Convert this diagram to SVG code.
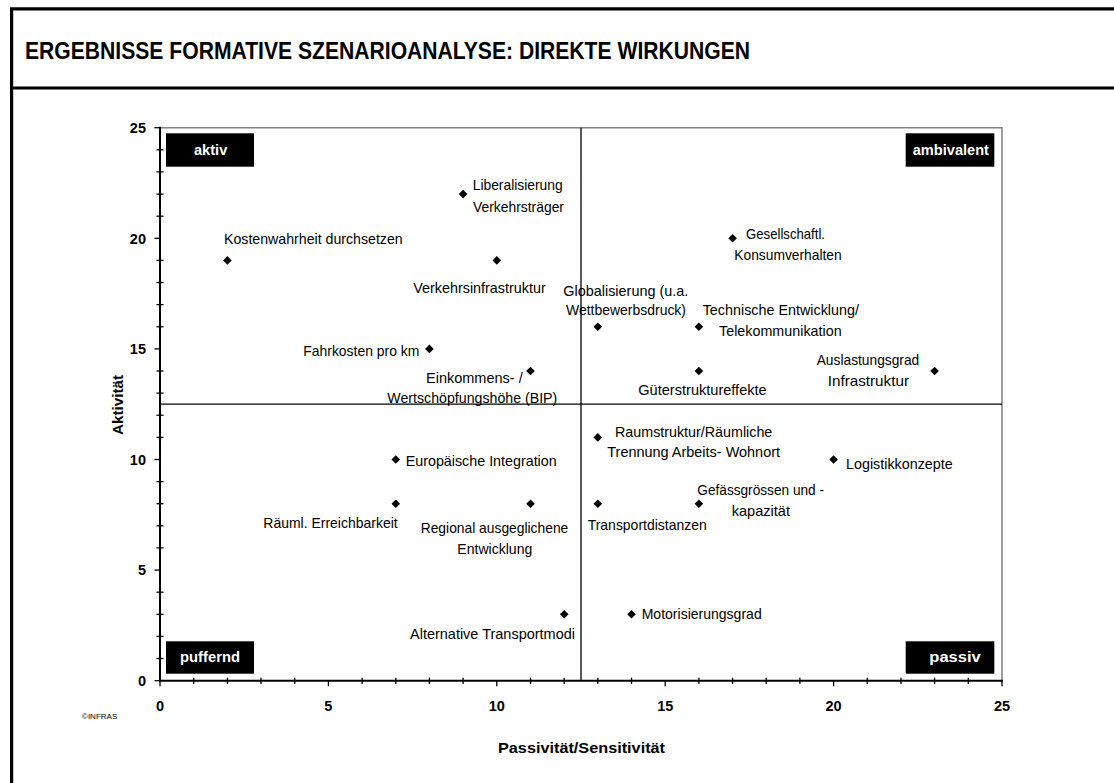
<svg xmlns="http://www.w3.org/2000/svg" xmlns:xlink="http://www.w3.org/1999/xlink" width="1114" height="783" viewBox="0 0 1114 783">
  <style>
    .frame { stroke: #000; stroke-width: 3.2; fill: none; }
    .title { font-family: "Liberation Sans Narrow", "Liberation Sans", Arial, sans-serif; font-weight: bold; font-size: 24px; fill: #000; }
    .plotbox { stroke: #808080; stroke-width: 1.5; fill: none; }
    .mid { stroke: #000; stroke-width: 1.3; }
    .axis { stroke: #000; stroke-width: 2; fill: none; }
    .tick { stroke: #000; stroke-width: 1.3; }
    .num { font-family: "Liberation Sans", Arial, sans-serif; font-weight: bold; font-size: 14.5px; fill: #000; }
    .axlabel { font-family: "Liberation Sans", Arial, sans-serif; font-weight: bold; font-size: 15px; fill: #000; }
    .lbl { font-family: "Liberation Sans", Arial, sans-serif; font-size: 15px; fill: #000; }
    .qbox { fill: #000; }
    .qtxt { font-family: "Liberation Sans", Arial, sans-serif; font-weight: bold; font-size: 14.5px; fill: #fff; }
    .copy { font-family: "Liberation Sans", Arial, sans-serif; font-size: 8px; fill: #000; }
  </style>
  <defs>
    <path id="dia" d="M0,-4.3 L4.3,0 L0,4.3 L-4.3,0 Z" fill="#000"/>
  </defs>

  <rect width="1114" height="783" fill="#fff"/>

  <!-- page frame and header -->
  <g id="frame">
    <path class="frame" d="M11.6,783 V8.8 H1114"/>
    <line class="frame" x1="10" y1="88" x2="1114" y2="88" stroke-width="3.5"/>
    <text class="title" x="25" y="59" textLength="725" lengthAdjust="spacingAndGlyphs">ERGEBNISSE FORMATIVE SZENARIOANALYSE: DIREKTE WIRKUNGEN</text>
  </g>

  <!-- plot area, quadrant dividers and axes -->
  <g id="plot">
    <path class="plotbox" d="M160,127.7 H1002 V680.7"/>
    <line class="mid" x1="160" y1="404.2" x2="1002" y2="404.2"/>
    <line class="mid" x1="581" y1="127.7" x2="581" y2="680.7"/>
    <line class="axis" x1="160" y1="126.7" x2="160" y2="681.7"/>
    <line class="axis" x1="159" y1="680.7" x2="1003" y2="680.7"/>
    <!-- y ticks: majors outward, minors crossing -->
    <g class="tick">
      <line x1="154.5" y1="127.7" x2="160" y2="127.7"/>
      <line x1="156.5" y1="149.8" x2="163.5" y2="149.8"/>
      <line x1="156.5" y1="171.9" x2="163.5" y2="171.9"/>
      <line x1="156.5" y1="194.1" x2="163.5" y2="194.1"/>
      <line x1="156.5" y1="216.2" x2="163.5" y2="216.2"/>
      <line x1="154.5" y1="238.3" x2="160" y2="238.3"/>
      <line x1="156.5" y1="260.4" x2="163.5" y2="260.4"/>
      <line x1="156.5" y1="282.5" x2="163.5" y2="282.5"/>
      <line x1="156.5" y1="304.6" x2="163.5" y2="304.6"/>
      <line x1="156.5" y1="326.8" x2="163.5" y2="326.8"/>
      <line x1="154.5" y1="348.9" x2="160" y2="348.9"/>
      <line x1="156.5" y1="371.0" x2="163.5" y2="371.0"/>
      <line x1="156.5" y1="393.1" x2="163.5" y2="393.1"/>
      <line x1="156.5" y1="415.2" x2="163.5" y2="415.2"/>
      <line x1="156.5" y1="437.4" x2="163.5" y2="437.4"/>
      <line x1="154.5" y1="459.5" x2="160" y2="459.5"/>
      <line x1="156.5" y1="481.6" x2="163.5" y2="481.6"/>
      <line x1="156.5" y1="503.7" x2="163.5" y2="503.7"/>
      <line x1="156.5" y1="525.8" x2="163.5" y2="525.8"/>
      <line x1="156.5" y1="547.9" x2="163.5" y2="547.9"/>
      <line x1="154.5" y1="570.1" x2="160" y2="570.1"/>
      <line x1="156.5" y1="592.2" x2="163.5" y2="592.2"/>
      <line x1="156.5" y1="614.3" x2="163.5" y2="614.3"/>
      <line x1="156.5" y1="636.4" x2="163.5" y2="636.4"/>
      <line x1="156.5" y1="658.5" x2="163.5" y2="658.5"/>
      <line x1="154.5" y1="680.7" x2="160" y2="680.7"/>
    </g>
    <!-- x ticks -->
    <g class="tick">
      <line x1="160" y1="680.7" x2="160" y2="686.2"/>
      <line x1="193.7" y1="677.7" x2="193.7" y2="684"/>
      <line x1="227.4" y1="677.7" x2="227.4" y2="684"/>
      <line x1="261.0" y1="677.7" x2="261.0" y2="684"/>
      <line x1="294.7" y1="677.7" x2="294.7" y2="684"/>
      <line x1="328.4" y1="680.7" x2="328.4" y2="686.2"/>
      <line x1="362.1" y1="677.7" x2="362.1" y2="684"/>
      <line x1="395.8" y1="677.7" x2="395.8" y2="684"/>
      <line x1="429.4" y1="677.7" x2="429.4" y2="684"/>
      <line x1="463.1" y1="677.7" x2="463.1" y2="684"/>
      <line x1="496.8" y1="680.7" x2="496.8" y2="686.2"/>
      <line x1="530.5" y1="677.7" x2="530.5" y2="684"/>
      <line x1="564.2" y1="677.7" x2="564.2" y2="684"/>
      <line x1="597.8" y1="677.7" x2="597.8" y2="684"/>
      <line x1="631.5" y1="677.7" x2="631.5" y2="684"/>
      <line x1="665.2" y1="680.7" x2="665.2" y2="686.2"/>
      <line x1="698.9" y1="677.7" x2="698.9" y2="684"/>
      <line x1="732.6" y1="677.7" x2="732.6" y2="684"/>
      <line x1="766.2" y1="677.7" x2="766.2" y2="684"/>
      <line x1="799.9" y1="677.7" x2="799.9" y2="684"/>
      <line x1="833.6" y1="680.7" x2="833.6" y2="686.2"/>
      <line x1="867.3" y1="677.7" x2="867.3" y2="684"/>
      <line x1="901.0" y1="677.7" x2="901.0" y2="684"/>
      <line x1="934.6" y1="677.7" x2="934.6" y2="684"/>
      <line x1="968.3" y1="677.7" x2="968.3" y2="684"/>
      <line x1="1002" y1="680.7" x2="1002" y2="686.2"/>
    </g>
    <!-- tick numbers -->
    <g class="num" text-anchor="end">
      <text x="146" y="133">25</text>
      <text x="146" y="243.5">20</text>
      <text x="146" y="354.1">15</text>
      <text x="146" y="464.7">10</text>
      <text x="146" y="575.3">5</text>
      <text x="146" y="685.9">0</text>
    </g>
    <g class="num" text-anchor="middle">
      <text x="160" y="710.5">0</text>
      <text x="328.4" y="710.5">5</text>
      <text x="496.8" y="710.5">10</text>
      <text x="665.2" y="710.5">15</text>
      <text x="833.6" y="710.5">20</text>
      <text x="1002" y="710.5">25</text>
    </g>
    <text class="axlabel" transform="translate(122.5,435) rotate(-90)" textLength="60" lengthAdjust="spacingAndGlyphs">Aktivität</text>
    <text class="axlabel" x="498" y="752.5" textLength="167" lengthAdjust="spacingAndGlyphs">Passivität/Sensitivität</text>
    <text class="copy" x="82" y="719">©INFRAS</text>
  </g>

  <!-- quadrant captions -->
  <g id="q-aktiv">
    <rect class="qbox" x="166" y="133.3" width="88" height="33.4"/>
    <text class="qtxt" x="194" y="154.5" textLength="33.3" lengthAdjust="spacingAndGlyphs">aktiv</text>
  </g>
  <g id="q-ambivalent">
    <rect class="qbox" x="905.7" y="133.3" width="88.6" height="33.4"/>
    <text class="qtxt" x="912.7" y="154.5" textLength="76.3" lengthAdjust="spacingAndGlyphs">ambivalent</text>
  </g>
  <g id="q-puffernd">
    <rect class="qbox" x="166" y="641.3" width="88" height="32.4"/>
    <text class="qtxt" x="180" y="662" textLength="60" lengthAdjust="spacingAndGlyphs">puffernd</text>
  </g>
  <g id="q-passiv">
    <rect class="qbox" x="905.7" y="641.3" width="88.6" height="32.4"/>
    <text class="qtxt" x="929.3" y="662" textLength="51.4" lengthAdjust="spacingAndGlyphs">passiv</text>
  </g>

  <!-- data points -->
  <g id="p-kostenwahrheit">
    <use xlink:href="#dia" x="227.4" y="260.4"/>
    <text class="lbl" x="224" y="243.5" textLength="178.7" lengthAdjust="spacingAndGlyphs">Kostenwahrheit durchsetzen</text>
  </g>
  <g id="p-liberalisierung">
    <use xlink:href="#dia" x="463.1" y="194.1"/>
    <text class="lbl" x="472.7" y="190" textLength="90" lengthAdjust="spacingAndGlyphs">Liberalisierung</text>
    <text class="lbl" x="473" y="211.5" textLength="91" lengthAdjust="spacingAndGlyphs">Verkehrsträger</text>
  </g>
  <g id="p-verkehrsinfrastruktur">
    <use xlink:href="#dia" x="496.8" y="260.4"/>
    <text class="lbl" x="413.3" y="293.3" textLength="132.4" lengthAdjust="spacingAndGlyphs">Verkehrsinfrastruktur</text>
  </g>
  <g id="p-fahrkosten">
    <use xlink:href="#dia" x="429.4" y="348.9"/>
    <text class="lbl" x="303.3" y="355.7" textLength="116" lengthAdjust="spacingAndGlyphs">Fahrkosten pro km</text>
  </g>
  <g id="p-einkommen">
    <use xlink:href="#dia" x="530.5" y="371.0"/>
    <text class="lbl" x="426" y="383.3" textLength="96.7" lengthAdjust="spacingAndGlyphs">Einkommens- /</text>
    <text class="lbl" x="387.3" y="403.3" textLength="170" lengthAdjust="spacingAndGlyphs">Wertschöpfungshöhe (BIP)</text>
  </g>
  <g id="p-globalisierung">
    <use xlink:href="#dia" x="597.8" y="326.8"/>
    <text class="lbl" x="563.3" y="295.5" textLength="125" lengthAdjust="spacingAndGlyphs">Globalisierung (u.a.</text>
    <text class="lbl" x="566" y="314.5" textLength="120" lengthAdjust="spacingAndGlyphs">Wettbewerbsdruck)</text>
  </g>
  <g id="p-konsumverhalten">
    <use xlink:href="#dia" x="732.6" y="238.3"/>
    <text class="lbl" x="746" y="239.3" textLength="79" lengthAdjust="spacingAndGlyphs">Gesellschaftl.</text>
    <text class="lbl" x="734.3" y="260" textLength="107.4" lengthAdjust="spacingAndGlyphs">Konsumverhalten</text>
  </g>
  <g id="p-technik">
    <use xlink:href="#dia" x="698.9" y="326.8"/>
    <text class="lbl" x="702.7" y="314.5" textLength="156.3" lengthAdjust="spacingAndGlyphs">Technische Entwicklung/</text>
    <text class="lbl" x="719" y="336" textLength="122.7" lengthAdjust="spacingAndGlyphs">Telekommunikation</text>
  </g>
  <g id="p-gueterstruktur">
    <use xlink:href="#dia" x="698.9" y="371.0"/>
    <text class="lbl" x="638.3" y="395" textLength="128.4" lengthAdjust="spacingAndGlyphs">Güterstruktureffekte</text>
  </g>
  <g id="p-auslastung">
    <use xlink:href="#dia" x="934.6" y="371.0"/>
    <text class="lbl" x="816.7" y="365" textLength="102.6" lengthAdjust="spacingAndGlyphs">Auslastungsgrad</text>
    <text class="lbl" x="827.7" y="385.7" textLength="81.3" lengthAdjust="spacingAndGlyphs">Infrastruktur</text>
  </g>
  <g id="p-europa">
    <use xlink:href="#dia" x="395.8" y="459.5"/>
    <text class="lbl" x="405.7" y="466" textLength="151" lengthAdjust="spacingAndGlyphs">Europäische Integration</text>
  </g>
  <g id="p-erreichbarkeit">
    <use xlink:href="#dia" x="395.8" y="503.7"/>
    <text class="lbl" x="263.3" y="528.3" textLength="134.4" lengthAdjust="spacingAndGlyphs">Räuml. Erreichbarkeit</text>
  </g>
  <g id="p-regional">
    <use xlink:href="#dia" x="530.5" y="503.7"/>
    <text class="lbl" x="420.7" y="533.3" textLength="147.6" lengthAdjust="spacingAndGlyphs">Regional ausgeglichene</text>
    <text class="lbl" x="457.3" y="554" textLength="75" lengthAdjust="spacingAndGlyphs">Entwicklung</text>
  </g>
  <g id="p-raumstruktur">
    <use xlink:href="#dia" x="597.8" y="437.4"/>
    <text class="lbl" x="615" y="436.7" textLength="157.3" lengthAdjust="spacingAndGlyphs">Raumstruktur/Räumliche</text>
    <text class="lbl" x="607.3" y="457.3" textLength="172.7" lengthAdjust="spacingAndGlyphs">Trennung Arbeits- Wohnort</text>
  </g>
  <g id="p-logistik">
    <use xlink:href="#dia" x="833.6" y="459.5"/>
    <text class="lbl" x="846" y="469.3" textLength="106.7" lengthAdjust="spacingAndGlyphs">Logistikkonzepte</text>
  </g>
  <g id="p-transportdistanzen">
    <use xlink:href="#dia" x="597.8" y="503.7"/>
    <text class="lbl" x="587.7" y="530" textLength="119" lengthAdjust="spacingAndGlyphs">Transportdistanzen</text>
  </g>
  <g id="p-gefaessgroessen">
    <use xlink:href="#dia" x="698.9" y="503.7"/>
    <text class="lbl" x="697.3" y="495" textLength="126.7" lengthAdjust="spacingAndGlyphs">Gefässgrössen und -</text>
    <text class="lbl" x="731.7" y="516" textLength="58.3" lengthAdjust="spacingAndGlyphs">kapazität</text>
  </g>
  <g id="p-alternative">
    <use xlink:href="#dia" x="564.2" y="614.3"/>
    <text class="lbl" x="410" y="639.3" textLength="165" lengthAdjust="spacingAndGlyphs">Alternative Transportmodi</text>
  </g>
  <g id="p-motorisierung">
    <use xlink:href="#dia" x="631.5" y="614.3"/>
    <text class="lbl" x="641.7" y="619.3" textLength="120" lengthAdjust="spacingAndGlyphs">Motorisierungsgrad</text>
  </g>
</svg>
